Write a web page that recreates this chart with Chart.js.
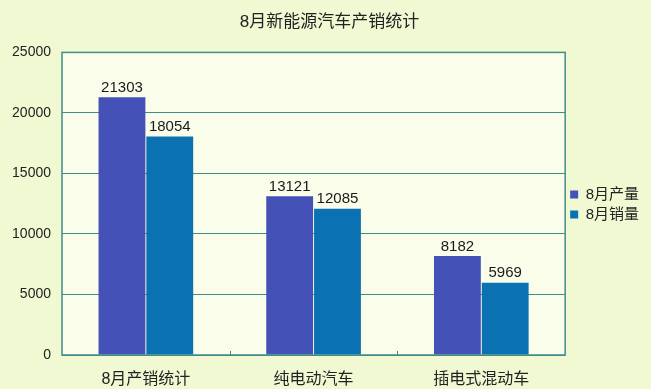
<!DOCTYPE html>
<html>
<head>
<meta charset="utf-8">
<script src="https://cdn.jsdelivr.net/npm/chart.js@4"></script>
<style>
  html, body { margin: 0; padding: 0; background: #f1f9d3; }
  #wrap { width: 651px; height: 389px; }
</style>
</head>
<body>
<div id="wrap"><canvas id="c" width="651" height="389"></canvas></div>
<script>
// 8月新能源汽车产销统计
const categories = ['8月产销统计', '纯电动汽车', '插电式混动车'];
const production = [21303, 13121, 8182];
const sales = [18054, 12085, 5969];
const seriesNames = ['8月产量', '8月销量'];
const yTicks = { min: 0, max: 25000, step: 5000 };

const FONT = "'Liberation Sans', 'Noto Sans CJK SC', sans-serif";
const GRID = '#3f8c8a';

// plot background, frame, category tick marks and value labels
const decor = {
  id: 'decor',
  beforeDraw(chart) {
    const { ctx, chartArea: a } = chart;
    ctx.save();
    ctx.fillStyle = '#fafdea';
    ctx.fillRect(a.left, a.top, a.right - a.left, a.bottom - a.top);
    ctx.restore();
  },
  afterDatasetsDraw(chart) {
    const { ctx, chartArea: a } = chart;
    ctx.save();
    ctx.strokeStyle = GRID;
    ctx.lineWidth = 1.5;
    ctx.strokeRect(a.left, a.top, a.right - a.left, a.bottom - a.top);
    const x = chart.scales.x;
    const step = (a.right - a.left) / categories.length;
    ctx.lineWidth = 1;
    ctx.beginPath();
    for (let i = 1; i < categories.length; i++) {
      const px = Math.round(x.getPixelForValue(i) - step / 2) + 0.5;
      ctx.moveTo(px, a.bottom);
      ctx.lineTo(px, a.bottom - 4);
    }
    ctx.stroke();
    ctx.fillStyle = '#1a1a1a';
    ctx.font = '15px ' + FONT;
    ctx.textAlign = 'center';
    ctx.textBaseline = 'bottom';
    chart.data.datasets.forEach((ds, di) => {
      chart.getDatasetMeta(di).data.forEach((bar, i) => {
        ctx.fillText(String(ds.data[i]), bar.x, bar.y - 2);
      });
    });
    ctx.restore();
  }
};

new Chart(document.getElementById('c'), {
  type: 'bar',
  data: {
    labels: categories,
    datasets: [
      { label: seriesNames[0], data: production, backgroundColor: '#4451b7' },
      { label: seriesNames[1], data: sales, backgroundColor: '#0a72b2' },
    ],
  },
  options: {
    responsive: false, animation: false,
    layout: { padding: { top: 0, left: 10, right: 2, bottom: 0 } },
    datasets: { bar: { categoryPercentage: 0.57, barPercentage: 0.98 } },
    plugins: {
      title: { display: true, text: '8月新能源汽车产销统计', color: '#222',
        font: { family: FONT, size: 17, weight: 'normal' }, padding: { top: 12, bottom: 20 } },
      legend: { position: 'right',
        title: { display: true, text: ' ', font: { size: 10 }, padding: 4 },
        labels: { boxWidth: 8, boxHeight: 8, padding: 5, color: '#222', font: { family: FONT, size: 15 } } },
      tooltip: { enabled: false },
    },
    scales: {
      x: {
        grid: { display: false },
        border: { display: false },
        ticks: { color: '#222', font: { family: FONT, size: 16 }, padding: 7 },
        afterFit: (s) => { s.height = 34; },
      },
      y: {
        min: yTicks.min, max: yTicks.max,
        grid: { color: GRID, drawTicks: false },
        border: { display: false },
        ticks: { stepSize: yTicks.step, color: '#222', font: { family: FONT, size: 14 }, padding: 11,
          callback: (v) => String(v) },
        afterFit: (s) => { s.width = 52; },
      },
    },
  },
  plugins: [decor],
});
</script>
</body>
</html>
